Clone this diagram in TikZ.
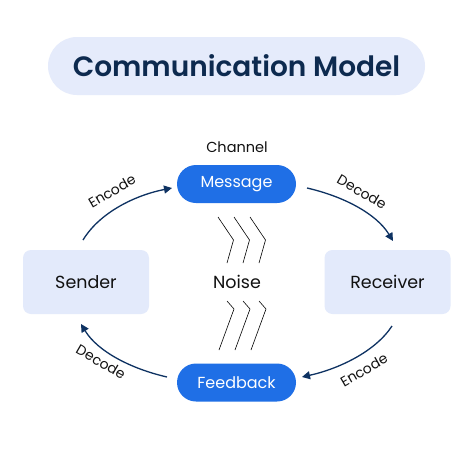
\documentclass[tikz,border=0pt]{standalone}
\usepackage{fontspec}
\setmainfont{Poppins}[BoldFont={Poppins SemiBold}]
\usetikzlibrary{arrows.meta}
\definecolor{navy}{HTML}{0D2A4F}
\definecolor{arrowc}{HTML}{0E3262}
\definecolor{pillbg}{HTML}{E5EBFB}
\definecolor{boxbg}{HTML}{E3EAFB}
\definecolor{bluepill}{HTML}{1F6FE6}
\definecolor{ink}{HTML}{111111}
\begin{document}
\begin{tikzpicture}[x=1pt,y=-1pt,
  titlepill/.style={fill=pillbg,rounded corners=29pt,minimum width=377pt,minimum height=58pt,inner sep=0pt,text=navy,font=\fontsize{28}{30}\selectfont\bfseries},
  agent/.style={fill=boxbg,rounded corners=8pt,minimum width=126pt,minimum height=64pt,inner sep=0pt,text=ink,font=\fontsize{17.5}{20}\selectfont},
  bpill/.style={fill=bluepill,rounded corners=19pt,minimum width=119pt,minimum height=38pt,inner sep=0pt,text=white,font=\fontsize{16}{18}\selectfont},
  plain/.style={inner sep=0pt,text=ink,font=\fontsize{17.5}{20}\selectfont},
  small/.style={inner sep=0pt,text=ink,font=\fontsize{14}{16}\selectfont},
  flow/.style={draw=arrowc,line width=1.3pt,-{Triangle[length=8pt,width=8pt]}},
  noise/.style={draw=black,line width=0.6pt}]
\useasboundingbox (0,0) rectangle (474,474);
\fill[white] (0,0) rectangle (474,474);
\node[titlepill] (title) at (236.5,66) {Communication Model};
\node[small,font=\fontsize{14.5}{16}\selectfont] (chan) at (237,147) {Channel};
\node[bpill] (msg) at (236.5,184) {Message};
\node[bpill] (fb) at (236.5,382.5) {Feedback};
\node[agent] (snd) at (86,282) {Sender};
\node[agent] (rcv) at (387.5,282) {Receiver};
\node[plain] (noisetxt) at (237,282) {Noise};
% arrow end points
\coordinate (a1s) at (83,240); \coordinate (a1e) at (172,188);
\coordinate (a2s) at (307,188); \coordinate (a2e) at (393,241);
\coordinate (a3s) at (392,326); \coordinate (a3e) at (302,377);
\coordinate (a4s) at (167,377); \coordinate (a4e) at (81,324);
\draw[flow] (a1s) .. controls (100,212) and (136,195) .. (a1e);
\draw[flow] (a2s) .. controls (342,196) and (376,213) .. (a2e);
\draw[flow] (a3s) .. controls (375,352) and (338,369) .. (a3e);
\draw[flow] (a4s) .. controls (132,369) and (98,352) .. (a4e);
\node[small,rotate=30] (l1) at (112,191) {Encode};
\node[small,rotate=-30] (l2) at (362,192) {Decode};
\node[small,rotate=30] (l3) at (364,370) {Encode};
\node[small,rotate=-30] (l4) at (101,362) {Decode};
% noise chevrons
\foreach \i in {0,1,2}{
  \draw[noise] (218+16*\i,217) -- (233.5+16*\i,240) -- (227+16*\i,263);
  \draw[noise] (227+16*\i,301) -- (234+16*\i,309) -- (219+16*\i,350);
}
\end{tikzpicture}
\end{document}
